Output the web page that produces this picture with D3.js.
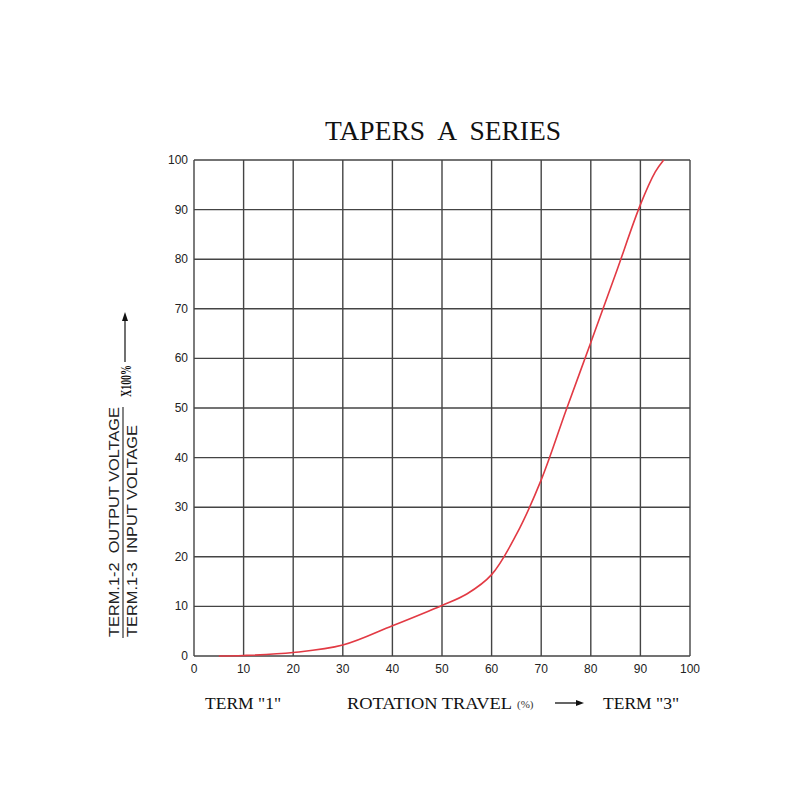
<!DOCTYPE html>
<html><head><meta charset="utf-8">
<script src="https://cdn.jsdelivr.net/npm/d3@7"></script>
<style>body{margin:0;background:#fff}svg{display:block}</style>
</head><body>
<svg id="c" width="800" height="800"></svg>
<script>
const rotation = [5, 10, 20, 30, 40, 50, 55, 60, 65, 70, 75, 80, 85, 90, 93, 94.7];
const outputPct = [0, 0.1, 0.7, 2.2, 6.1, 10.2, 12.5, 16.4, 24.5, 35.5, 49.5, 63.2, 77, 91, 97.6, 100];
const xTicks = [0, 10, 20, 30, 40, 50, 60, 70, 80, 90, 100];
const yTicks = [0, 10, 20, 30, 40, 50, 60, 70, 80, 90, 100];

const svg = d3.select("#c");
const x = d3.scaleLinear().domain([0, 100]).range([194, 690]);
const y = d3.scaleLinear().domain([0, 100]).range([656, 160]);

// grid
svg.append("g").selectAll("line").data(xTicks).join("line")
  .attr("x1", d => x(d)).attr("x2", d => x(d)).attr("y1", y(0)).attr("y2", y(100))
  .attr("stroke", "#444").attr("stroke-width", 1.4);
svg.append("g").selectAll("line").data(yTicks).join("line")
  .attr("x1", x(0)).attr("x2", x(100)).attr("y1", d => y(d)).attr("y2", d => y(d))
  .attr("stroke", "#444").attr("stroke-width", 1.4);

// tick labels
svg.append("g").selectAll("text").data(xTicks).join("text")
  .attr("x", d => x(d)).attr("y", y(0) + 17)
  .attr("text-anchor", "middle").attr("font-family", "Liberation Sans, Arial, sans-serif")
  .attr("font-size", 12).attr("fill", "#222").text(d => d);
svg.append("g").selectAll("text").data(yTicks).join("text")
  .attr("x", x(0) - 6).attr("y", d => y(d) + 4)
  .attr("text-anchor", "end").attr("font-family", "Liberation Sans, Arial, sans-serif")
  .attr("font-size", 12).attr("fill", "#222").text(d => d);

// curve
const pts = rotation.map((r, i) => [r, outputPct[i]]);
svg.append("path").datum(pts)
  .attr("d", d3.line().x(d => x(d[0])).y(d => y(d[1])).curve(d3.curveCatmullRom.alpha(0.5)))
  .attr("fill", "none").attr("stroke", "#e23a44").attr("stroke-width", 1.6);

// title
const serif = "Liberation Serif, Times New Roman, serif";
svg.append("text").attr("x", 443).attr("y", 140).attr("text-anchor", "middle")
  .attr("font-family", serif).attr("font-size", 27.5)
  .attr("fill", "#111").style("white-space", "pre").text("TAPERS  A  SERIES");

// bottom labels
svg.append("text").attr("x", 205).attr("y", 709).attr("font-family", serif).attr("font-size", 17.5)
  .attr("fill", "#111").text('TERM "1"');
svg.append("text").attr("x", 347).attr("y", 709).attr("font-family", serif).attr("font-size", 17.5)
  .attr("fill", "#111").attr("textLength", 165).attr("lengthAdjust", "spacingAndGlyphs")
  .text("ROTATION TRAVEL");
svg.append("text").attr("x", 517).attr("y", 708).attr("font-family", serif).attr("font-size", 11)
  .attr("fill", "#333").text("(%)");
svg.append("line").attr("x1", 555).attr("x2", 578).attr("y1", 703).attr("y2", 703)
  .attr("stroke", "#111").attr("stroke-width", 1.3);
svg.append("path").attr("d", "M576,700 L584,703 L576,706 Z").attr("fill", "#111");
svg.append("text").attr("x", 603).attr("y", 709).attr("font-family", serif).attr("font-size", 17.5)
  .attr("fill", "#111").text('TERM "3"');

// y-axis label (rotated)
const sans = "Liberation Sans, Arial, sans-serif";
const yl = svg.append("g");
yl.append("text").attr("transform", "translate(119,637) rotate(-90)")
  .attr("font-family", sans).attr("font-size", 14.5).attr("fill", "#222")
  .attr("textLength", 230).attr("lengthAdjust", "spacingAndGlyphs")
  .style("white-space", "pre").text("TERM.1-2  OUTPUT VOLTAGE");
yl.append("line").attr("x1", 123).attr("x2", 123).attr("y1", 638).attr("y2", 407)
  .attr("stroke", "#333").attr("stroke-width", 1.2);
yl.append("text").attr("transform", "translate(137,637) rotate(-90)")
  .attr("font-family", sans).attr("font-size", 14.5).attr("fill", "#222")
  .attr("textLength", 212).attr("lengthAdjust", "spacingAndGlyphs")
  .style("white-space", "pre").text("TERM.1-3  INPUT VOLTAGE");
yl.append("text").attr("transform", "translate(131,397) rotate(-90)")
  .attr("font-family", serif).attr("font-size", 15).attr("font-weight", "bold").attr("fill", "#111")
  .attr("textLength", 32).attr("lengthAdjust", "spacingAndGlyphs")
  .text("X100%");
yl.append("line").attr("x1", 125).attr("x2", 125).attr("y1", 362).attr("y2", 320)
  .attr("stroke", "#111").attr("stroke-width", 1.2);
yl.append("path").attr("d", "M122,321 L125,312 L128,321 Z").attr("fill", "#111");
</script>
</body></html>
